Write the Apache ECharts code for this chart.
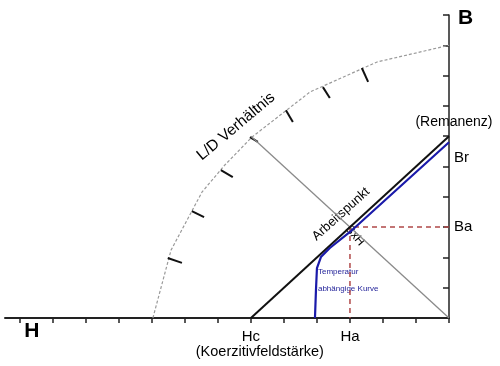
<!DOCTYPE html>
<html><head><meta charset="utf-8">
<script src="https://cdn.jsdelivr.net/npm/echarts@6/dist/echarts.min.js"></script>
<style>html,body{margin:0;padding:0;background:#fff}#c{width:500px;height:366px}</style>
</head><body><div id="c"></div>
<script>
// Axis ticks (H runs leftwards from the origin at the B axis)
const hTickValues = [0,1,2,3,4,5,6,7,8,9,10,11,12,13];
const hLabelValues = [6, 3];
const hLabelTexts = ['Hc', 'Ha'];
const bLabelValues = [3, 5.3];
const bLabelTexts = ['Ba', 'Br'];

// L/D ratio curve (dashed) and its tick marks
const ldCurveX = [8.97, 8.42, 7.48, 6.79, 5.97, 4.21, 2.18, 0];
const ldCurveY = [0, 2.24, 4.16, 5.05, 5.97, 7.46, 8.45, 9.0];
const ldTickX1 = [8.52, 7.79, 6.91, 6.03, 4.94, 3.82, 2.64];
const ldTickY1 = [1.98, 3.53, 4.88, 5.97, 6.86, 7.62, 8.25];
const ldTickX2 = [8.09, 7.42, 6.55, 5.79, 4.73, 3.61, 2.45];
const ldTickY2 = [1.82, 3.33, 4.65, 5.81, 6.47, 7.26, 7.79];

// Straight demagnetisation line (Hc -> Br) and load line (origin -> L/D)
const lineHcX = [6, 0];
const lineHcY = [0, 6];
const loadLineX = [6, 0];
const loadLineY = [6, 0];

// Temperature dependent curve
const tempCurveX = [4.06, 4.03, 4.0, 3.88, 3.61, 3.0, 0];
const tempCurveY = [0, 0.92, 1.65, 2.01, 2.31, 2.84, 5.8];

// Operating point guides (Ha, Ba)
const opGuideX = [0, 3, 3];
const opGuideY = [3, 3, 0];

// Annotations
const annoTexts = ['L/D Verhältnis', 'Arbeitspunkt', 'BxH', 'Temperatur', 'abhängige Kurve', '(Remanenz)', 'B', 'H', '(Koerzitivfeldstärke)'];
const annoX = [6.45, 3.27, 2.85, 3.97, 3.97, -0.15, -0.5, 12.64, 5.73];
const annoY = [6.32, 3.43, 2.72, 1.52, 0.96, 6.47, 9.9, -0.43, -1.12];

const annoStyles = [
  {rotate: 40, fontSize: 15.5, color: '#000'},
  {rotate: 42, fontSize: 13, color: '#000'},
  {rotate: -50, fontSize: 12, color: '#000'},
  {fontSize: 8, color: '#24249a', align: 'left'},
  {fontSize: 8, color: '#24249a', align: 'left'},
  {fontSize: 14, color: '#000'},
  {fontSize: 21, fontWeight: 'bold', color: '#000'},
  {fontSize: 21, fontWeight: 'bold', color: '#000'},
  {fontSize: 14.5, color: '#000'}
];

const zip = (xs, ys) => xs.map((x, i) => [x, ys[i]]);
const ff = 'Liberation Sans, Arial, sans-serif';

const series = [];
series.push({type: 'line', data: zip(ldCurveX, ldCurveY), showSymbol: false, symbol: 'none', silent: true,
  lineStyle: {color: '#9a9a9a', width: 1.2, type: [3, 2]}});
ldTickX1.forEach((x, i) => {
  series.push({type: 'line', data: [[x, ldTickY1[i]], [ldTickX2[i], ldTickY2[i]]], symbol: 'none', silent: true,
    lineStyle: {color: '#111', width: 2}});
});
series.push({type: 'line', data: zip(loadLineX, loadLineY), symbol: 'none', silent: true,
  lineStyle: {color: '#8a8a8a', width: 1.3}});
series.push({type: 'line', data: zip(opGuideX, opGuideY), symbol: 'none', silent: true,
  lineStyle: {color: '#b04848', width: 1.5, type: [5, 4]}});
series.push({type: 'line', data: zip(lineHcX, lineHcY), symbol: 'none', silent: true,
  lineStyle: {color: '#111', width: 2}});
series.push({type: 'line', data: zip(tempCurveX, tempCurveY), symbol: 'none', silent: true,
  lineStyle: {color: '#1a1aaa', width: 2.2}});
series.push({type: 'scatter', symbolSize: 0, clip: false, silent: true, itemStyle: {opacity: 1},
  data: annoTexts.map((t, i) => ({value: [annoX[i], annoY[i]], name: t,
    label: Object.assign({show: true, position: 'inside', formatter: t, fontFamily: ff, opacity: 1}, annoStyles[i])}))});

const chart = echarts.init(document.getElementById('c'), null, {renderer: 'canvas'});
chart.setOption({
  animation: false,
  backgroundColor: '#fff',
  grid: {left: 5, right: 51, top: 15, bottom: 48, outerBoundsMode: 'none'},
  xAxis: {
    type: 'value', inverse: true, min: 0, max: 13.45,
    splitLine: {show: false},
    axisLine: {onZero: false, lineStyle: {color: '#222', width: 2}},
    axisTick: {show: true, length: 5, customValues: hTickValues, lineStyle: {color: '#222', width: 1.5}},
    axisLabel: {show: true, customValues: hLabelValues, margin: 11, fontSize: 15, color: '#000', fontFamily: ff,
      formatter: v => hLabelTexts[hLabelValues.indexOf(v)]}
  },
  yAxis: {
    type: 'value', position: 'right', min: 0, max: 10, interval: 1,
    splitLine: {show: false},
    axisLine: {onZero: false, lineStyle: {color: '#222', width: 1.5}},
    axisTick: {show: true, inside: true, length: 6, lineStyle: {color: '#222', width: 1.5}},
    axisLabel: {show: true, customValues: bLabelValues, margin: 5, fontSize: 15, color: '#000', fontFamily: ff,
      formatter: v => bLabelTexts[bLabelValues.indexOf(v)]}
  },
  series: series
});
</script>
</body></html>
